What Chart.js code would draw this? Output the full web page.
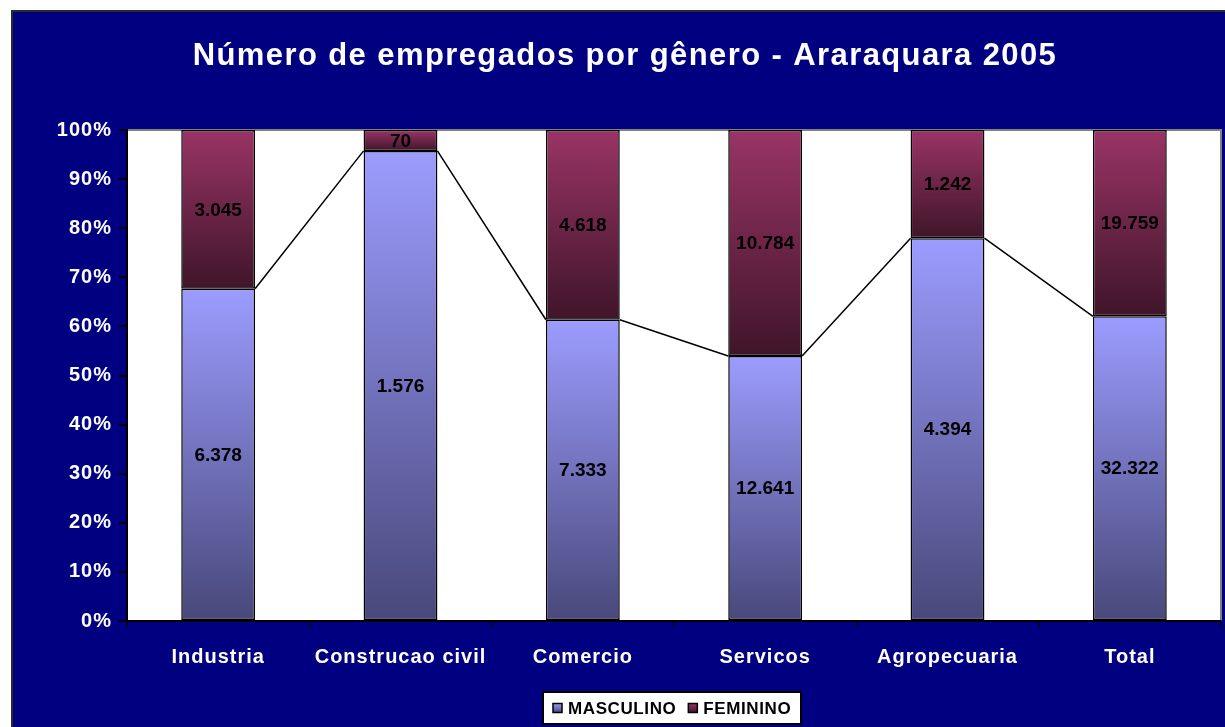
<!DOCTYPE html>
<html>
<head>
<meta charset="utf-8">
<script src="https://cdn.jsdelivr.net/npm/chart.js@4"></script>
<style>
  html, body { margin: 0; padding: 0; background: #fff; }
  #wrap { position: relative; width: 1225px; height: 727px; }
</style>
</head>
<body>
<div id="wrap"><canvas id="chart" width="1225" height="727"></canvas></div>
<script>
// Empregados por gênero - Araraquara 2005
const chartTitle = 'Número de empregados por gênero - Araraquara 2005';
const categories = ['Industria', 'Construcao civil', 'Comercio', 'Servicos', 'Agropecuaria', 'Total'];
const seriesNames = ['MASCULINO', 'FEMININO'];
const masculino = [6378, 1576, 7333, 12641, 4394, 32322];
const feminino = [3045, 70, 4618, 10784, 1242, 19759];
const yTicks = [0, 10, 20, 30, 40, 50, 60, 70, 80, 90, 100];

// share of each group in the category total (100% stacked)
const pctM = masculino.map((m, i) => m / (m + feminino[i]) * 100);
const pctF = feminino.map((f, i) => f / (masculino[i] + f) * 100);

const FONT = '"Liberation Sans", Arial, sans-serif';
const colTop = ['#9c9cff', '#9a3466'];
const colBot = ['#48487a', '#3f1529'];

const fmt = n => n.toString().replace(/\B(?=(\d{3})+(?!\d))/g, '.');

// gradient per segment, light at the top, dark at the bottom
function segGradient(d) {
    return function (ctx) {
        const chart = ctx.chart;
        const y = chart.scales && chart.scales.y;
        if (!chart.chartArea || !y || ctx.dataIndex === undefined) return colTop[d];
        const i = ctx.dataIndex;
        const lo = d === 0 ? 0 : pctM[i];
        const hi = d === 0 ? pctM[i] : 100;
        const y0 = y.getPixelForValue(hi);
        const y1 = y.getPixelForValue(lo);
        const g = chart.ctx.createLinearGradient(0, y0, 0, Math.max(y1, y0 + 1));
        g.addColorStop(0, colTop[d]);
        g.addColorStop(1, colBot[d]);
        return g;
    };
}

// the old chart renderer spaces bold text a little wider
const spacing = {
    id: 'spacing',
    beforeUpdate(chart) { chart.ctx.letterSpacing = '1px'; },
    beforeDraw(chart) { chart.ctx.letterSpacing = '1px'; }
};

// navy frame, white plot area, title and legend
const backdrop = {
    id: 'backdrop',
    beforeDraw(chart) {
        const c = chart.ctx, a = chart.chartArea;
        c.save();
        c.fillStyle = '#ffffff';
        c.fillRect(0, 0, chart.width, chart.height);
        c.fillStyle = '#2a2a2a';
        c.fillRect(11, 10, chart.width, chart.height);
        c.fillStyle = '#000080';
        c.fillRect(13, 12, chart.width, chart.height);
        c.fillStyle = '#ffffff';
        c.fillRect(a.left, a.top, a.right - a.left, a.bottom - a.top);
        c.strokeStyle = '#808080';
        c.lineWidth = 2;
        c.beginPath();
        c.moveTo(a.left, a.top);
        c.lineTo(a.right, a.top);
        c.lineTo(a.right, a.bottom);
        c.stroke();

        // title
        c.letterSpacing = '1.4px';
        c.fillStyle = '#ffffff';
        c.font = 'bold 31px ' + FONT;
        c.textAlign = 'center';
        c.textBaseline = 'middle';
        c.fillText(chartTitle, 625, 56);

        // legend
        c.letterSpacing = '0.6px';
        c.font = 'bold 17px ' + FONT;
        c.textAlign = 'left';
        const box = 9, gap = 6, between = 12, pad = 10;
        const lx = 543, ly = 692, lw = 258, lh = 32;
        c.fillStyle = '#ffffff';
        c.fillRect(lx, ly, lw, lh);
        c.strokeStyle = '#000000';
        c.lineWidth = 2;
        c.strokeRect(lx, ly, lw, lh);
        let x = lx + pad;
        const yc = ly + lh / 2;
        seriesNames.forEach((s, d) => {
            const g = c.createLinearGradient(0, yc - box / 2, 0, yc + box / 2);
            g.addColorStop(0, colTop[d]);
            g.addColorStop(1, colBot[d]);
            c.fillStyle = g;
            c.fillRect(x, yc - box / 2, box, box);
            c.lineWidth = 1.5;
            c.strokeRect(x, yc - box / 2, box, box);
            x += box + gap;
            c.fillStyle = '#000000';
            c.fillText(s, x, yc + 1);
            x += c.measureText(s).width + between;
        });
        c.restore();
    }
};

// series lines between the tops of the MASCULINO segments, plus value labels
const overlay = {
    id: 'overlay',
    afterDatasetsDraw(chart) {
        const c = chart.ctx;
        const m0 = chart.getDatasetMeta(0).data;
        c.save();
        c.strokeStyle = '#000000';
        c.lineWidth = 1.5;
        c.beginPath();
        for (let i = 0; i < m0.length - 1; i++) {
            const a = m0[i], b = m0[i + 1];
            c.moveTo(a.x + a.width / 2, a.y);
            c.lineTo(b.x - b.width / 2, b.y);
        }
        c.stroke();
        c.letterSpacing = '0px';
        c.fillStyle = '#000000';
        c.font = 'bold 19px ' + FONT;
        c.textAlign = 'center';
        c.textBaseline = 'middle';
        [masculino, feminino].forEach((vals, d) => {
            chart.getDatasetMeta(d).data.forEach((el, i) => {
                c.fillText(fmt(vals[i]), el.x, (el.y + el.base) / 2 + 1);
            });
        });
        c.restore();
    }
};

new Chart(document.getElementById('chart'), {
    type: 'bar',
    data: {
        labels: categories,
        datasets: [
            {
                label: seriesNames[0],
                data: pctM,
                backgroundColor: segGradient(0),
                borderColor: '#000000',
                borderWidth: 1.5,
                borderSkipped: false
            },
            {
                label: seriesNames[1],
                data: pctF,
                backgroundColor: segGradient(1),
                borderColor: '#000000',
                borderWidth: 1.5,
                borderSkipped: false
            }
        ]
    },
    options: {
        responsive: false,
        animation: false,
        layout: { padding: { left: 12, right: 4, top: 130, bottom: 46 } },
        datasets: { bar: { barPercentage: 0.405, categoryPercentage: 1 } },
        plugins: {
            title: { display: false },
            legend: { display: false },
            tooltip: { enabled: false }
        },
        scales: {
            x: {
                stacked: true,
                grid: { offset: true, drawOnChartArea: false, color: '#000000', tickLength: 6, lineWidth: 1.5 },
                border: { display: true, color: '#000000', width: 2 },
                ticks: {
                    color: '#ffffff',
                    padding: 18,
                    font: { family: FONT, size: 20, weight: 'bold' }
                },
                afterFit(scale) { scale.height = 60; }
            },
            y: {
                stacked: true,
                min: 0,
                max: 100,
                afterBuildTicks(scale) { scale.ticks = yTicks.map(v => ({ value: v })); },
                grid: { drawOnChartArea: false, color: '#000000', tickLength: 8, lineWidth: 2 },
                border: { display: true, color: '#000000', width: 2 },
                ticks: {
                    color: '#ffffff',
                    padding: 7,
                    callback: v => v + '%',
                    font: { family: FONT, size: 20, weight: 'bold' }
                },
                afterFit(scale) { scale.width = 115; }
            }
        }
    },
    plugins: [spacing, backdrop, overlay]
});
</script>
</body>
</html>
